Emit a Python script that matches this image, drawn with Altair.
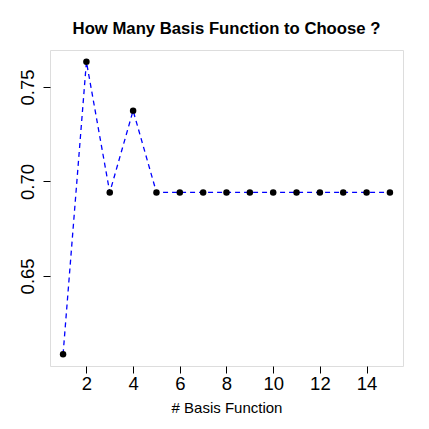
import altair as alt
import pandas as pd

n_basis = list(range(1, 16))
score = [0.6085, 0.7634, 0.6942, 0.7375] + [0.6942] * 11

x_ticks = [2, 4, 6, 8, 10, 12, 14]
y_ticks = [0.65, 0.70, 0.75]

df = pd.DataFrame({"n": n_basis, "score": score})

FONT = "Liberation Sans"

xs = alt.Scale(domain=[0.44, 15.56], nice=False, zero=False)
ys = alt.Scale(domain=[0.6023, 0.7696], nice=False, zero=False)

x_axis = alt.Axis(values=x_ticks, title="# Basis Function", grid=False, domain=False,
                  tickSize=7, tickColor="black", labelFontSize=18.5, labelFont=FONT,
                  labelColor="black", labelPadding=1, titleFontSize=15, titleFont=FONT,
                  titleFontWeight="normal", titleColor="black", titlePadding=8,
                  labelFlush=False)
y_axis = alt.Axis(values=y_ticks, title=None, grid=False, domain=False, format=".2f",
                  tickSize=7, tickColor="black", labelFontSize=18.5, labelFont=FONT,
                  labelColor="black", labelAngle=270, labelAlign="center",
                  labelBaseline="bottom", labelPadding=6, labelFlush=False)

base = alt.Chart(df)

line = base.mark_line(color="blue", strokeDash=[5, 4], strokeWidth=1.3).encode(
    x=alt.X("n:Q", scale=xs, axis=x_axis),
    y=alt.Y("score:Q", scale=ys, axis=y_axis),
)
pts = base.mark_circle(color="black", size=42, opacity=1).encode(
    x=alt.X("n:Q", scale=xs),
    y=alt.Y("score:Q", scale=ys),
)

chart = (line + pts).properties(
    width=353,
    height=316,
    title=alt.TitleParams("How Many Basis Function to Choose ?", fontSize=16.7,
                          font=FONT, fontWeight="bold", color="black",
                          anchor="middle", offset=12),
    autosize=alt.AutoSizeParams(type="none"),
    padding={"left": 42, "top": 42, "right": 18, "bottom": 55},
).configure_view(stroke="#222222", strokeWidth=1).configure(background="white")

chart.save("out.html", embed_options={"renderer": "svg", "actions": False})
